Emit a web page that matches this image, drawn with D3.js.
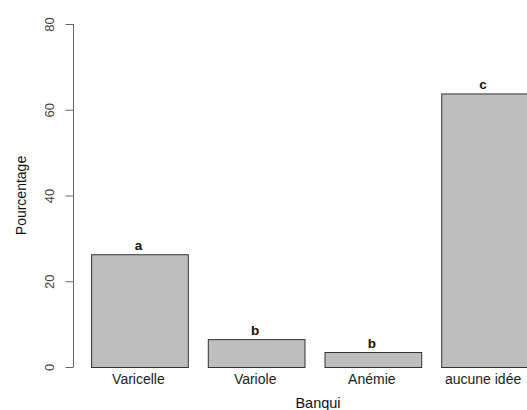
<!DOCTYPE html>
<html><head><meta charset="utf-8">
<script src="https://cdn.jsdelivr.net/npm/d3@7"></script>
<style>body{margin:0;background:#fff}svg{display:block}text{font-family:"Liberation Sans",Arial,sans-serif}</style>
</head><body>
<script>
const categories = ["Varicelle", "Variole", "Anémie", "aucune idée"];
const values = [26.3, 6.5, 3.5, 63.8];
const letters = ["a", "b", "b", "c"];
const yTicks = [0, 20, 40, 60, 80];
const xTitle = "Banqui";
const yTitle = "Pourcentage";

const W = 527, H = 410;
const svg = d3.select("body").append("svg").attr("width", W).attr("height", H);

const x = d3.scaleBand().domain(categories).range([81.1, 547.9])
  .paddingInner(0.1714).paddingOuter(0.0857);
const y = d3.scaleLinear().domain([0, 80]).range([367, 24]);

// centre of the visible part of each bar
const cx = d => (x(d) + Math.min(x(d) + x.bandwidth(), W)) / 2;

// bars
svg.selectAll("rect.bar").data(categories).enter().append("rect")
  .attr("class", "bar")
  .attr("x", d => x(d) + 0.5)
  .attr("y", (d, i) => y(values[i]) + 0.5)
  .attr("width", x.bandwidth())
  .attr("height", (d, i) => y(0) - y(values[i]))
  .attr("fill", "#bebebe").attr("stroke", "#333").attr("stroke-width", 1);

// letters
svg.selectAll("text.let").data(categories).enter().append("text")
  .attr("class", "let")
  .attr("x", d => cx(d) - 1)
  .attr("y", (d, i) => y(values[i]) - 4)
  .attr("text-anchor", "middle")
  .attr("font-size", 13.5).attr("font-weight", "bold").attr("fill", "#111")
  .text((d, i) => letters[i]);

// category labels
svg.selectAll("text.cat").data(categories).enter().append("text")
  .attr("class", "cat")
  .attr("x", d => cx(d) - 1)
  .attr("y", 384)
  .attr("text-anchor", "middle")
  .attr("font-size", 14).attr("fill", "#222")
  .text(d => d);

// y axis
const yAxis = d3.axisLeft(y).tickValues(yTicks).tickSize(8).tickPadding(5);
const gy = svg.append("g").attr("transform", "translate(73.5,0)").call(yAxis);
gy.select(".domain").attr("stroke", "#666").attr("d", `M0,${y(80)}V${y(0)}`);
gy.selectAll(".tick line").attr("stroke", "#666");
gy.selectAll(".tick text")
  .attr("font-size", 13).attr("fill", "#444")
  .attr("font-family", "Liberation Sans, Arial, sans-serif")
  .attr("text-anchor", "middle")
  .attr("x", 0).attr("y", 0)
  .attr("transform", "translate(-24,0) rotate(-90)")
  .attr("dy", "0.35em");

// axis titles
svg.append("text")
  .attr("transform", `translate(26,${(y(0) + y(80)) / 2}) rotate(-90)`)
  .attr("text-anchor", "middle").attr("font-size", 14).attr("fill", "#111")
  .text(yTitle);
svg.append("text")
  .attr("x", 318).attr("y", 408)
  .attr("text-anchor", "middle").attr("font-size", 14.5).attr("fill", "#111")
  .text(xTitle);
</script>
</body></html>
